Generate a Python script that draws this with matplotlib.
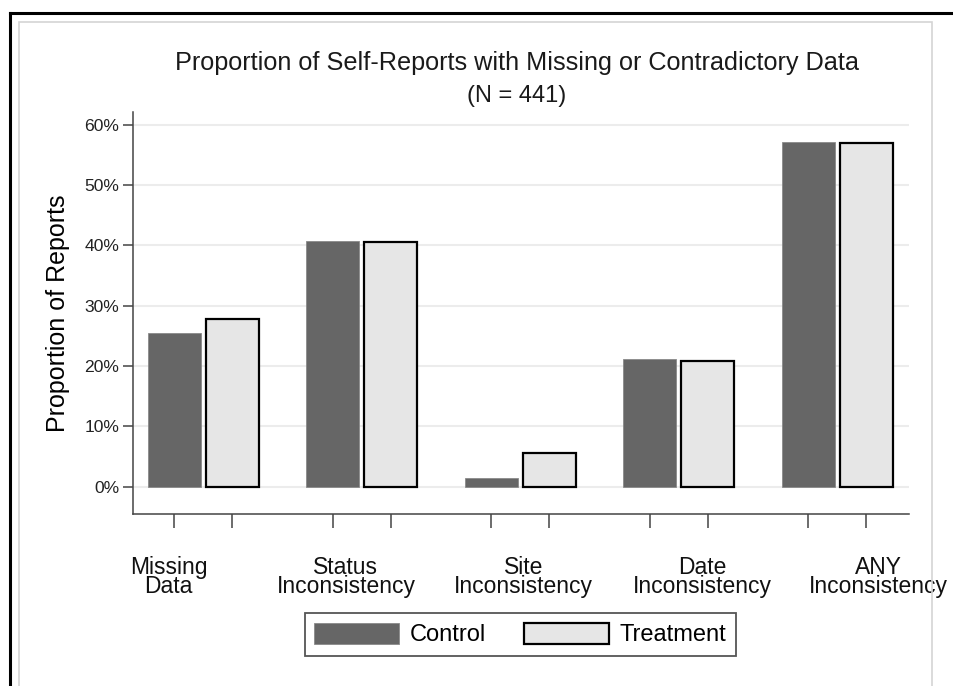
import matplotlib
matplotlib.use('Agg')
import matplotlib.pyplot as plt
from matplotlib.patches import Rectangle
from matplotlib.lines import Line2D
import numpy as np

plt.rcParams['font.family'] = ['Liberation Sans', 'DejaVu Sans']

# Data (percent of reports)
categories = ['Missing\nData', 'Status\nInconsistency', 'Site\nInconsistency',
              'Date\nInconsistency', 'ANY\nInconsistency']
control = [25.5, 40.7, 1.4, 21.1, 57.1]
treatment = [27.7, 40.5, 5.6, 20.8, 56.9]
yticks = [0, 10, 20, 30, 40, 50, 60]

W, H = 954, 686
fig = plt.figure(figsize=(W / 100, H / 100), dpi=100)

# outer frame lines
fig.add_artist(Line2D([10 / W, 1], [1 - 13 / H, 1 - 13 / H], color='black', lw=2.2))
fig.add_artist(Line2D([10 / W, 10 / W], [0, 1 - 13 / H], color='black', lw=2.2))
fig.add_artist(Rectangle((19 / W, -0.05), (932 - 19) / W, 1.05 - 22 / H,
                         transform=fig.transFigure, fill=False,
                         edgecolor='#d4d4d4', lw=1.2))

ax = fig.add_axes([133 / W, (H - 514) / H, 776 / W, 402 / H])

x = np.arange(len(categories))
off = 0.183
bw = 0.334
ax.bar(x - off, control, bw, color='#666666', edgecolor='#8a8a8a', lw=0.6,
       label='Control', zorder=3)
ax.bar(x + off, treatment, bw, color='#e6e6e6', edgecolor='black', lw=1.6,
       label='Treatment', zorder=3)

ax.set_xlim(-0.4435, 4.452)
ax.set_ylim(-4.56, 62.1)
ax.set_yticks(yticks)
ax.set_yticklabels([f'{t}%' for t in yticks])
ax.yaxis.grid(True, color='#ececec', lw=1.5, zorder=0)
ax.set_axisbelow(True)

ax.set_xticks(np.concatenate([x - off, x + off]))
ax.set_xticklabels([])
ax.tick_params(axis='x', length=10, width=1.1, color='#444444')
ax.tick_params(axis='y', length=7, width=1.1, color='#444444',
               labelsize=12.6, labelcolor='#222222', pad=3)

for s in ['top', 'right']:
    ax.spines[s].set_visible(False)
for s in ['left', 'bottom']:
    ax.spines[s].set_color('#444444')
    ax.spines[s].set_linewidth(1.1)

ax.set_ylabel('Proportion of Reports', fontsize=18, labelpad=10)

# category labels below the axis
label_x = [-0.22, 0.90, 2.02, 3.15, 4.26]
for lx, name in zip(label_x, categories):
    ax.text(lx, 1 - (577 - 112) / 402, name, transform=ax.get_xaxis_transform(),
            ha='center', va='center', fontsize=16.5, linespacing=0.82,
            color='#111111')

fig.text(517 / W, 1 - 63 / H, 'Proportion of Self-Reports with Missing or Contradictory Data',
         ha='center', va='center', fontsize=18.2, color='#1a1a1a')
fig.text(517 / W, 1 - 96 / H, '(N = 441)', ha='center', va='center',
         fontsize=17, color='#1a1a1a')

leg = ax.legend(loc='center', bbox_to_anchor=(520.5 / W, 1 - 634.5 / H),
                bbox_transform=fig.transFigure, ncol=2, fontsize=17,
                handlelength=3.6, handleheight=0.98, handletextpad=0.45,
                columnspacing=1.6, borderpad=0.42, fancybox=False,
                framealpha=1, edgecolor='#555555')
leg.get_frame().set_linewidth(1.3)

fig.savefig('out.png', dpi=100)
